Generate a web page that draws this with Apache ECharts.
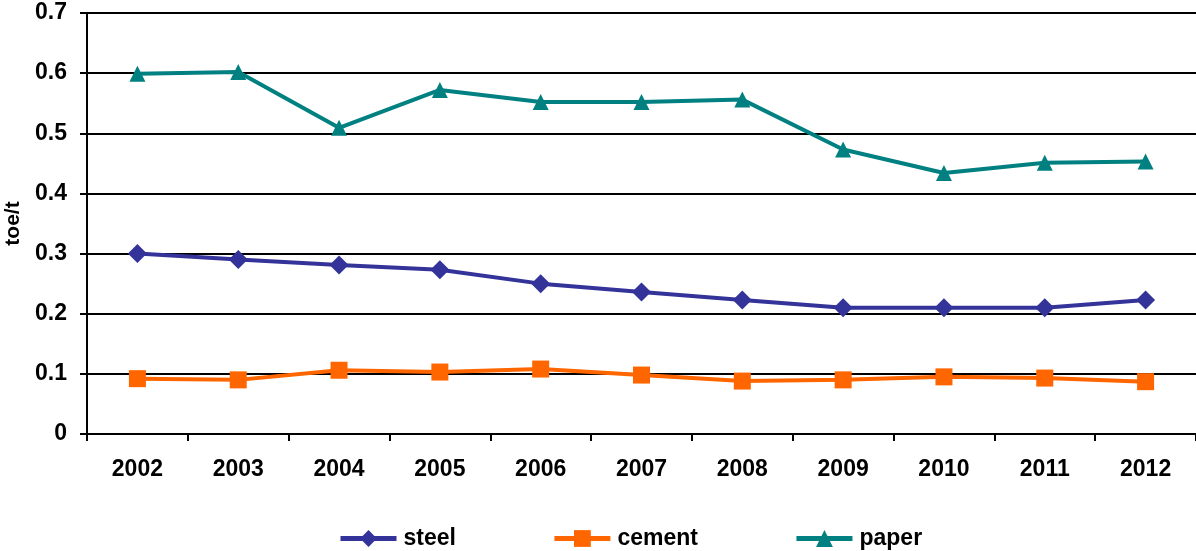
<!DOCTYPE html>
<html><head><meta charset="utf-8">
<script src="https://cdn.jsdelivr.net/npm/echarts@6/dist/echarts.min.js"></script>
<style>html,body{margin:0;padding:0;background:#fff}#c{width:1196px;height:551px}</style>
</head><body><div id="c"></div>
<script>
const years = ['2002','2003','2004','2005','2006','2007','2008','2009','2010','2011','2012'];
const steel = [0.300,0.290,0.281,0.273,0.250,0.236,0.223,0.210,0.210,0.210,0.223];
const cement = [0.092,0.090,0.106,0.103,0.108,0.098,0.088,0.090,0.095,0.093,0.087];
const paper = [0.599,0.602,0.509,0.572,0.552,0.552,0.556,0.473,0.434,0.451,0.453];
const yTicks = ['0','0.1','0.2','0.3','0.4','0.5','0.6','0.7'];

const chart = echarts.init(document.getElementById('c'), null, {renderer:'canvas'});
const font = 'Arial, "Liberation Sans", sans-serif';
function ser(name, data, color, symbol, size){
  return {name, type:'line', data, symbol, symbolSize:size, smooth:false,
    lineStyle:{color, width:4}, itemStyle:{color, borderWidth:0}, emphasis:{disabled:true}};
}
chart.setOption({
  animation:false,
  grid:{left:87, right:0, top:13, bottom:117, containLabel:false, outerBoundsMode:'none'},
  legend:{top:522, left:333, itemGap:96, itemWidth:56, itemHeight:21,
    lineStyle:{width:5},
    textStyle:{fontFamily:font, fontWeight:'bold', fontSize:23, color:'#000', padding:[0,0,0,2]},
    data:['steel','cement','paper']},
  xAxis:{type:'category', data:years, boundaryGap:true,
    axisLine:{lineStyle:{color:'#000', width:2}},
    axisTick:{show:true, length:7, lineStyle:{color:'#000', width:2}},
    axisLabel:{margin:24, fontFamily:font, fontWeight:'bold', fontSize:23, color:'#000'}},
  yAxis:{type:'value', min:0, max:0.7, interval:0.1, name:'toe/t', nameLocation:'middle', nameGap:61,
    nameTextStyle:{fontFamily:font, fontWeight:'bold', fontSize:21, color:'#000'},
    axisLine:{show:true, lineStyle:{color:'#000', width:2}},
    axisTick:{show:true, length:7, lineStyle:{color:'#000', width:2}},
    splitLine:{lineStyle:{color:'#000', width:2}},
    axisLabel:{margin:20, fontFamily:font, fontWeight:'bold', fontSize:23, color:'#000',
      formatter:(v)=>yTicks[Math.round(v*10)]}},
  series:[ser('steel', steel, '#333399', 'diamond', 19),
          ser('cement', cement, '#FF6600', 'rect', 17),
          ser('paper', paper, '#008080', 'triangle', 16)]
});
</script></body></html>
